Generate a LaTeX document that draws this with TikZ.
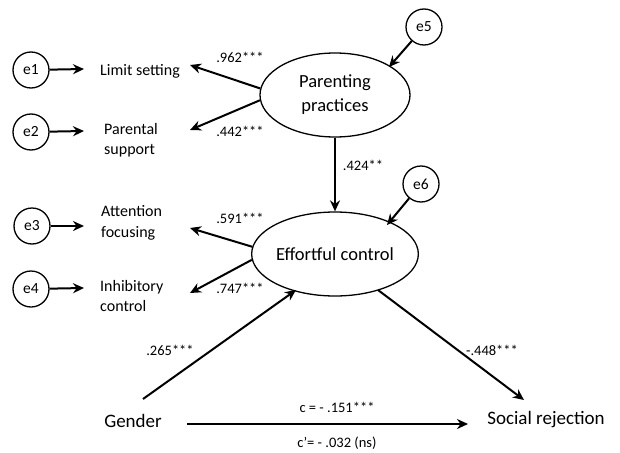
\documentclass[tikz,border=0pt]{standalone}
\usepackage{fontspec}
\setmainfont{Carlito}
\usetikzlibrary{shapes.geometric,arrows.meta}
\begin{document}
\begin{tikzpicture}[x=1pt,y=-1pt,
  err/.style={draw,circle,line width=1.3pt,minimum size=36pt,inner sep=0pt,font=\fontsize{15.5}{18}\selectfont},
  lat/.style={draw,ellipse,line width=1.3pt,minimum width=150pt,minimum height=84pt,inner sep=0pt,align=center,font=\fontsize{18.5}{24}\selectfont},
  ind/.style={anchor=west,align=left,inner sep=0pt,font=\fontsize{16}{20.5}\selectfont},
  big/.style={inner sep=0pt,font=\fontsize{19}{22}\selectfont},
  lab/.style={inner sep=0pt,font=\fontsize{14.5}{17}\selectfont},
  arr/.style={line width=2pt,-{Stealth[length=11pt,width=10pt]}}]
\useasboundingbox (0,0) rectangle (620,452);
% latent
\node[lat] (pp) at (335,95) {Parenting\\practices};
\node[lat] (ec) at (335,254) {Effortful control};
% errors
\node[err] (e1) at (31,70) {e1};
\node[err] (e2) at (31,132) {e2};
\node[err] (e3) at (32,226) {e3};
\node[err] (e4) at (31,289) {e4};
\node[err] (e5) at (424,27) {e5};
\node[err] (e6) at (421,184) {e6};
% indicators
\node[ind] (ls) at (100,71) {Limit setting};
\node[ind] (ps) at (104,140) {Parental\\support};
\node[ind] (af) at (101,223) {Attention\\focusing};
\node[ind] (ic) at (100,296) {Inhibitory\\control};
\node[big] (gen) at (133,421) {Gender};
\node[big] (sr) at (546,420) {Social rejection};
% coordinates
\coordinate (t1) at (84,69);
\coordinate (t2) at (84,131);
\coordinate (t3) at (84,226);
\coordinate (t4) at (84,288);
\coordinate (tls) at (190,65);
\coordinate (tps) at (190,130);
\coordinate (taf) at (190,228);
\coordinate (tic) at (190,293);
\coordinate (t5) at (389,67);
\coordinate (t6) at (387,225);
\coordinate (g1) at (143,399);
\coordinate (g2) at (296,290);
\coordinate (s1) at (378,290);
\coordinate (s2) at (524,400);
\coordinate (h1) at (187,424);
\coordinate (h2) at (468,424);
% arrows
\draw[arr] (e1) -- (t1);
\draw[arr] (e2) -- (t2);
\draw[arr] (e3) -- (t3);
\draw[arr] (e4) -- (t4);
\draw[arr] (pp.175) -- (tls);
\draw[arr] (pp.184) -- (tps);
\draw[arr] (ec.175) -- (taf);
\draw[arr] (ec.184) -- (tic);
\draw[arr] (e5) -- (t5);
\draw[arr] (e6) -- (t6);
\draw[arr] (pp.south) -- (ec.north);
\draw[arr] (g1) -- (g2);
\draw[arr] (s1) -- (s2);
\draw[arr] (h1) -- (h2);
% labels
\node[lab] at (240,57) {.962***};
\node[lab] at (240,131) {.442***};
\node[lab] at (363,165) {.424**};
\node[lab] at (240,218) {.591***};
\node[lab] at (240,288) {.747***};
\node[lab] at (170,350) {.265***};
\node[lab] at (492,350) {-.448***};
\node[lab] at (337,407) {c = - .151***};
\node[lab] at (337,443) {c’= - .032 (ns)};
\end{tikzpicture}
\end{document}
